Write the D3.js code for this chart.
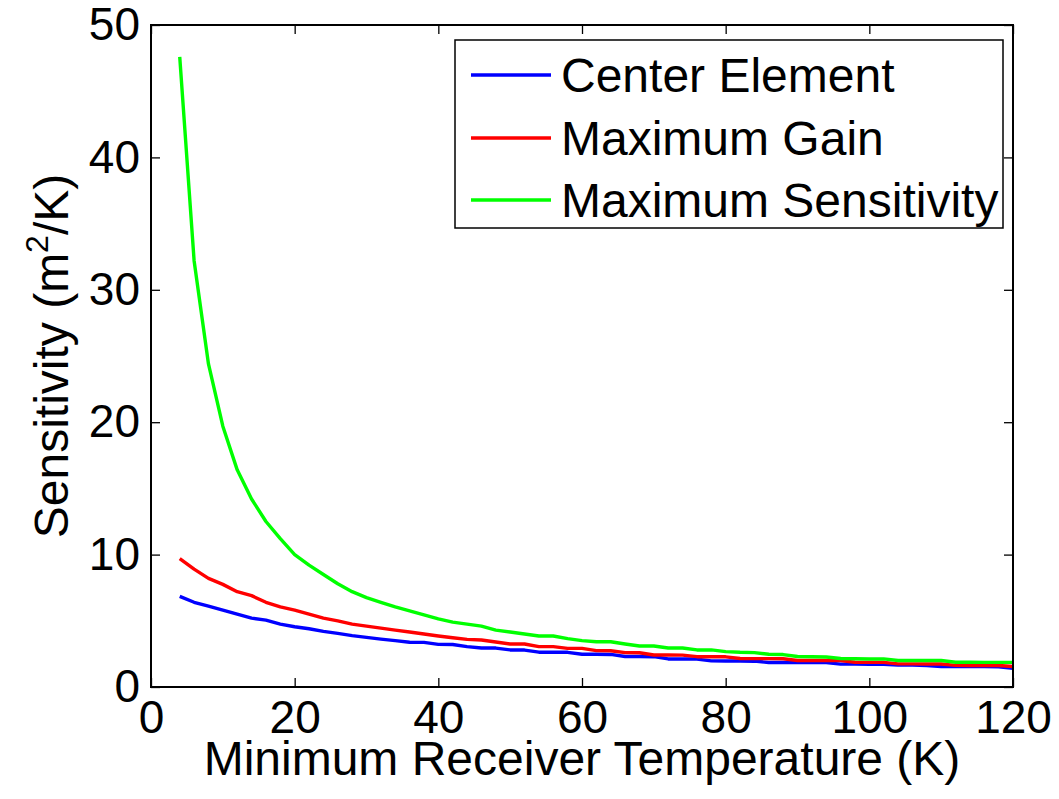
<!DOCTYPE html>
<html>
<head>
<meta charset="utf-8">
<script src="https://cdn.jsdelivr.net/npm/d3@7"></script>
<style>
  html, body { margin: 0; padding: 0; background: #fff; }
  svg { display: block; }
  text { font-family: "Liberation Sans", Arial, Helvetica, sans-serif; fill: #000; }
</style>
</head>
<body>
<svg id="chart" width="1059" height="799"></svg>
<script>
// Receiver temperature samples (K)
const temperature = d3.range(4, 121, 2);

// Sensitivity (m^2/K) for each beamforming strategy
const centerElement = [
  6.85, 6.4, 6.1, 5.8, 5.5, 5.2, 5.05, 4.75, 4.55, 4.4,
  4.2, 4.05, 3.88, 3.75, 3.62, 3.5, 3.38, 3.37, 3.22, 3.21,
  3.05, 2.95, 2.94, 2.8, 2.79, 2.63, 2.62, 2.62, 2.47, 2.47,
  2.46, 2.3, 2.3, 2.29, 2.12, 2.12, 2.11, 1.97, 1.96, 1.96,
  1.95, 1.85, 1.85, 1.85, 1.84, 1.84, 1.73, 1.73, 1.72, 1.72,
  1.66, 1.65, 1.62, 1.55, 1.55, 1.55, 1.55, 1.52, 1.42
];
const maximumGain = [
  9.7, 8.9, 8.2, 7.75, 7.2, 6.9, 6.4, 6.05, 5.8, 5.5,
  5.2, 5.0, 4.75, 4.6, 4.45, 4.3, 4.15, 4.0, 3.85, 3.72,
  3.6, 3.55, 3.4, 3.25, 3.25, 3.05, 3.05, 2.92, 2.92, 2.75,
  2.74, 2.6, 2.59, 2.42, 2.42, 2.41, 2.29, 2.29, 2.28, 2.15,
  2.14, 2.14, 2.13, 2.0, 2.0, 2.0, 1.99, 1.87, 1.86, 1.86,
  1.75, 1.75, 1.74, 1.74, 1.63, 1.62, 1.62, 1.62, 1.55
];
const maximumSensitivity = [
  47.6, 32.2, 24.4, 19.7, 16.4, 14.2, 12.5, 11.2, 10.0, 9.2,
  8.5, 7.8, 7.2, 6.75, 6.4, 6.05, 5.75, 5.45, 5.15, 4.9,
  4.75, 4.6, 4.3, 4.15, 4.0, 3.85, 3.85, 3.65, 3.5, 3.42,
  3.42, 3.25, 3.1, 3.1, 2.95, 2.95, 2.8, 2.8, 2.67, 2.62,
  2.6, 2.47, 2.45, 2.3, 2.28, 2.27, 2.15, 2.13, 2.12, 2.12,
  2.0, 2.0, 2.0, 2.0, 1.87, 1.87, 1.86, 1.86, 1.86
];

const seriesNames = ["Center Element", "Maximum Gain", "Maximum Sensitivity"];
const seriesValues = [centerElement, maximumGain, maximumSensitivity];
const seriesColors = ["#0000ff", "#ff0000", "#00ff00"];

const xTicks = [0, 20, 40, 60, 80, 100, 120];
const yTicks = [0, 10, 20, 30, 40, 50];

const margin = { left: 151, top: 25, right: 1013, bottom: 687 };

const svg = d3.select("#chart");

const x = d3.scaleLinear().domain([0, 120]).range([margin.left, margin.right]);
const y = d3.scaleLinear().domain([0, 50]).range([margin.bottom, margin.top]);

const tickLen = 9;
const tickFont = 46;

// Curves
const line = d3.line()
  .x((d, i) => x(temperature[i]))
  .y(d => y(d));

const plot = svg.append("g");
seriesValues.forEach((vals, k) => {
  plot.append("path")
    .datum(vals)
    .attr("d", line)
    .attr("fill", "none")
    .attr("stroke", seriesColors[k])
    .attr("stroke-width", 3.4)
    .attr("stroke-linejoin", "round");
});

// Axes: bottom/left with labels, top/right mirrored ticks only
const xBottom = svg.append("g")
  .attr("transform", `translate(0,${margin.bottom})`)
  .call(d3.axisBottom(x).tickValues(xTicks).tickSizeInner(-tickLen).tickSizeOuter(0).tickPadding(13));
const xTop = svg.append("g")
  .attr("transform", `translate(0,${margin.top})`)
  .call(d3.axisTop(x).tickValues(xTicks).tickSizeInner(-tickLen).tickSizeOuter(0).tickFormat(""));
const yLeft = svg.append("g")
  .attr("transform", `translate(${margin.left},0)`)
  .call(d3.axisLeft(y).tickValues(yTicks).tickSizeInner(-tickLen).tickSizeOuter(0).tickPadding(11));
const yRight = svg.append("g")
  .attr("transform", `translate(${margin.right},0)`)
  .call(d3.axisRight(y).tickValues(yTicks).tickSizeInner(-tickLen).tickSizeOuter(0).tickFormat(""));

[xBottom, xTop, yLeft, yRight].forEach(g => {
  g.select(".domain").remove();
  g.selectAll(".tick line").attr("stroke", "#000").attr("stroke-width", 1.3);
  g.selectAll(".tick text")
    .attr("font-size", tickFont)
    .attr("font-family", "'Liberation Sans', Arial, sans-serif")
    .attr("fill", "#000");
});

// Frame around the plotting area
svg.append("rect")
  .attr("x", margin.left)
  .attr("y", margin.top)
  .attr("width", margin.right - margin.left)
  .attr("height", margin.bottom - margin.top)
  .attr("fill", "none")
  .attr("stroke", "#000")
  .attr("stroke-width", 2);

// Axis titles
svg.append("text")
  .attr("x", (margin.left + margin.right) / 2)
  .attr("y", 775)
  .attr("text-anchor", "middle")
  .attr("font-size", 48)
  .text("Minimum Receiver Temperature (K)");

const yTitle = svg.append("text")
  .attr("transform", `translate(68,${(margin.top + margin.bottom) / 2}) rotate(-90)`)
  .attr("text-anchor", "middle")
  .attr("font-size", 48);
yTitle.append("tspan").text("Sensitivity (m");
yTitle.append("tspan").attr("font-size", 32).attr("dy", -20).text("2");
yTitle.append("tspan").attr("dy", 20).text("/K)");

// Legend
const legend = svg.append("g");
legend.append("rect")
  .attr("x", 455).attr("y", 40)
  .attr("width", 548).attr("height", 188)
  .attr("fill", "#fff")
  .attr("stroke", "#000")
  .attr("stroke-width", 1.5);

const legendRows = [75, 138, 200];
seriesNames.forEach((name, k) => {
  legend.append("line")
    .attr("x1", 471).attr("x2", 551)
    .attr("y1", legendRows[k]).attr("y2", legendRows[k])
    .attr("stroke", seriesColors[k])
    .attr("stroke-width", 3.4);
  legend.append("text")
    .attr("x", 561)
    .attr("y", legendRows[k] + 17)
    .attr("font-size", 48)
    .text(name);
});
</script>
</body>
</html>
